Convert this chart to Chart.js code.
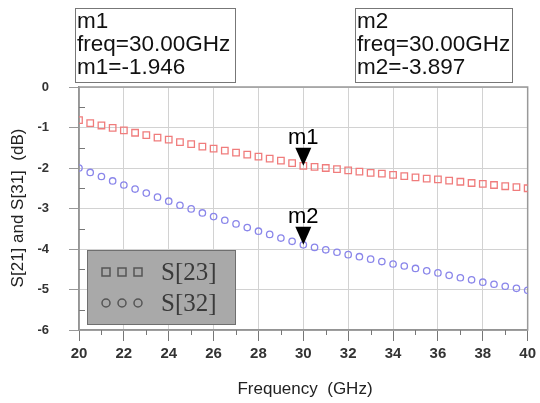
<!DOCTYPE html>
<html>
<head>
<meta charset="utf-8">
<script src="https://cdn.jsdelivr.net/npm/chart.js@4.4.1/dist/chart.umd.min.js"></script>
<style>
  html, body { margin: 0; padding: 0; background: #ffffff; }
  #wrap { width: 540px; height: 403px; position: relative; }
</style>
</head>
<body>
<div id="wrap"><canvas id="c" width="540" height="403"></canvas></div>
<script>
// ---- data ----
const freqGHz = [20, 20.5, 21, 21.5, 22, 22.5, 23, 23.5, 24, 24.5, 25, 25.5, 26, 26.5, 27, 27.5, 28, 28.5, 29, 29.5,
                 30, 30.5, 31, 31.5, 32, 32.5, 33, 33.5, 34, 34.5, 35, 35.5, 36, 36.5, 37, 37.5, 38, 38.5, 39, 39.5, 40];
const s23 = [-0.82, -0.89, -0.95, -1.01, -1.07, -1.13, -1.19, -1.25, -1.30, -1.36, -1.41, -1.47, -1.52, -1.57, -1.62, -1.67, -1.72, -1.77, -1.82, -1.88,
             -1.946, -1.97, -2.00, -2.03, -2.06, -2.09, -2.12, -2.14, -2.17, -2.20, -2.23, -2.26, -2.28, -2.31, -2.34, -2.37, -2.39, -2.42, -2.45, -2.47, -2.50];
const s32 = [-2.00, -2.11, -2.21, -2.32, -2.42, -2.52, -2.62, -2.72, -2.82, -2.92, -3.01, -3.11, -3.20, -3.29, -3.38, -3.47, -3.56, -3.64, -3.73, -3.81,
             -3.897, -3.96, -4.02, -4.08, -4.14, -4.19, -4.25, -4.31, -4.37, -4.42, -4.48, -4.54, -4.59, -4.65, -4.71, -4.76, -4.82, -4.87, -4.92, -4.97, -5.02];
const seriesNames = ["S[23]", "S[32]"];
const xTicks = [20, 22, 24, 26, 28, 30, 32, 34, 36, 38, 40];
const yTicks = [0, -1, -2, -3, -4, -5, -6];
const markerNames = ["m1", "m2"];
const markerFreq = [30, 30];
const markerValues = [-1.946, -3.897];
const xTitle = "Frequency  (GHz)";
const yTitle = "S[21] and S[31]  (dB)";

// ---- helpers ----
function pts(xs, ys) { return xs.map((x, i) => ({ x: x, y: ys[i] })); }

const decorPlugin = {
  id: 'decor',
  afterDatasetsDraw(chart) {
    const ctx = chart.ctx;
    const xs = chart.scales.x, ys = chart.scales.y;
    const a = chart.chartArea;
    ctx.save();
    // minor ticks: x at odd GHz (below axis), y at half dB (inside)
    ctx.strokeStyle = '#777';
    ctx.lineWidth = 1;
    for (let i = 0; i < xTicks.length - 1; i++) {
      const v = (xTicks[i] + xTicks[i + 1]) / 2;
      const px = Math.round(xs.getPixelForValue(v)) + 0.5;
      ctx.beginPath(); ctx.moveTo(px, a.bottom); ctx.lineTo(px, a.bottom + 5); ctx.stroke();
    }
    for (let i = 0; i < yTicks.length - 1; i++) {
      const v = (yTicks[i] + yTicks[i + 1]) / 2;
      const py = Math.round(ys.getPixelForValue(v)) + 0.5;
      ctx.beginPath(); ctx.moveTo(a.left, py); ctx.lineTo(a.left + 6, py); ctx.stroke();
    }
    // markers (triangles + labels)
    markerNames.forEach((name, i) => {
      const px = xs.getPixelForValue(markerFreq[i]);
      const py = ys.getPixelForValue(markerValues[i]);
      ctx.fillStyle = '#000';
      ctx.beginPath();
      ctx.moveTo(px, py);
      ctx.lineTo(px - 8, py - 18);
      ctx.lineTo(px + 8, py - 18);
      ctx.closePath();
      ctx.fill();
      ctx.font = '22px "Liberation Sans", Arial, sans-serif';
      ctx.textAlign = 'center';
      ctx.textBaseline = 'alphabetic';
      ctx.fillText(name, px, py - 22);
    });
    // legend box inside plot
    const lx = 87, ly = 250, lw = 148, lh = 74;
    ctx.fillStyle = '#a9a9a9';
    ctx.fillRect(lx, ly, lw, lh);
    ctx.strokeStyle = '#6f6f6f';
    ctx.lineWidth = 1;
    ctx.strokeRect(lx + 0.5, ly + 0.5, lw, lh);
    const rowsY = [272, 303];
    chart.data.datasets.forEach((ds, i) => {
      const cy = rowsY[i];
      ctx.strokeStyle = '#555';
      ctx.lineWidth = 1.5;
      [106, 122, 138].forEach(cx => {
        ctx.beginPath();
        if (ds.pointStyle === 'rect') ctx.rect(cx - 4, cy - 4, 8, 8);
        else ctx.arc(cx, cy, 4, 0, Math.PI * 2);
        ctx.stroke();
      });
      ctx.fillStyle = '#3a3a3a';
      ctx.font = '25px "Liberation Serif", "DejaVu Serif", serif';
      ctx.textAlign = 'left';
      ctx.textBaseline = 'middle';
      ctx.fillText(ds.label, 161, cy + 1);
    });
    ctx.restore();
  },
  afterDraw(chart) {
    const ctx = chart.ctx;
    ctx.save();
    // marker readout boxes
    const boxes = [{ x: 75, y: 8, w: 160, h: 74 }, { x: 355, y: 8, w: 157, h: 74 }];
    markerNames.forEach((name, i) => {
      const b = boxes[i];
      ctx.strokeStyle = '#777';
      ctx.lineWidth = 1;
      ctx.strokeRect(b.x + 0.5, b.y + 0.5, b.w, b.h);
      ctx.fillStyle = '#111';
      ctx.font = '22.5px "Liberation Sans", Arial, sans-serif';
      ctx.textAlign = 'left';
      ctx.textBaseline = 'middle';
      ctx.fillText(name, b.x + 2, b.y + 14);
      ctx.fillText('freq=' + markerFreq[i].toFixed(2) + 'GHz', b.x + 2, b.y + 37);
      ctx.fillText(name + '=' + markerValues[i].toFixed(3), b.x + 2, b.y + 60);
    });
    // axis titles
    ctx.fillStyle = '#222';
    ctx.font = '17px "Liberation Sans", Arial, sans-serif';
    ctx.textAlign = 'center';
    ctx.textBaseline = 'middle';
    ctx.fillText(xTitle, 305, 389);
    ctx.translate(18, 208);
    ctx.rotate(-Math.PI / 2);
    ctx.fillText(yTitle, 0, 0);
    ctx.restore();
  }
};

new Chart(document.getElementById('c'), {
  type: 'scatter',
  data: {
    datasets: [
      {
        label: seriesNames[0],
        data: pts(freqGHz, s23),
        pointStyle: 'rect',
        radius: 4.6,
        borderColor: '#f07c7c',
        backgroundColor: 'rgba(0,0,0,0)',
        borderWidth: 1.3,
        showLine: false
      },
      {
        label: seriesNames[1],
        data: pts(freqGHz, s32),
        pointStyle: 'circle',
        radius: 3.2,
        borderColor: '#8a86ea',
        backgroundColor: 'rgba(0,0,0,0)',
        borderWidth: 1.3,
        showLine: false
      }
    ]
  },
  options: {
    responsive: false,
    animation: false,
    devicePixelRatio: 1,
    layout: { padding: { top: 87, right: 9, left: 0, bottom: 0 } },
    plugins: { legend: { display: false }, tooltip: { enabled: false } },
    scales: {
      x: {
        type: 'linear',
        min: 20, max: 40,
        afterBuildTicks: (s) => { s.ticks = xTicks.map(v => ({ value: v })); },
        afterFit: (s) => { s.height = 73; },
        grid: { color: '#d2d2d2', tickColor: '#777', tickLength: 11, drawTicks: true },
        border: { display: true, color: '#888', width: 1.5 },
        ticks: {
          color: '#333',
          font: { family: '"Liberation Sans", Arial, sans-serif', size: 15, weight: 'bold' },
          padding: 4,
          maxRotation: 0
        }
      },
      y: {
        type: 'linear',
        min: -6, max: 0,
        afterBuildTicks: (s) => { s.ticks = yTicks.map(v => ({ value: v })); },
        afterFit: (s) => { s.width = 79; },
        grid: { color: '#d2d2d2', tickColor: '#999', tickLength: 10, drawTicks: true },
        border: { display: true, color: '#888', width: 1.5 },
        ticks: {
          color: '#333',
          font: { family: '"Liberation Sans", Arial, sans-serif', size: 13, weight: 'bold' },
          padding: 20
        }
      }
    }
  },
  plugins: [decorPlugin, {
    id: 'frame',
    beforeDatasetsDraw(chart) {
      const a = chart.chartArea, ctx = chart.ctx;
      ctx.save();
      ctx.strokeStyle = '#999';
      ctx.lineWidth = 1.5;
      ctx.strokeRect(a.left, a.top, a.right - a.left, a.bottom - a.top);
      ctx.restore();
    }
  }]
});
</script>
</body>
</html>
